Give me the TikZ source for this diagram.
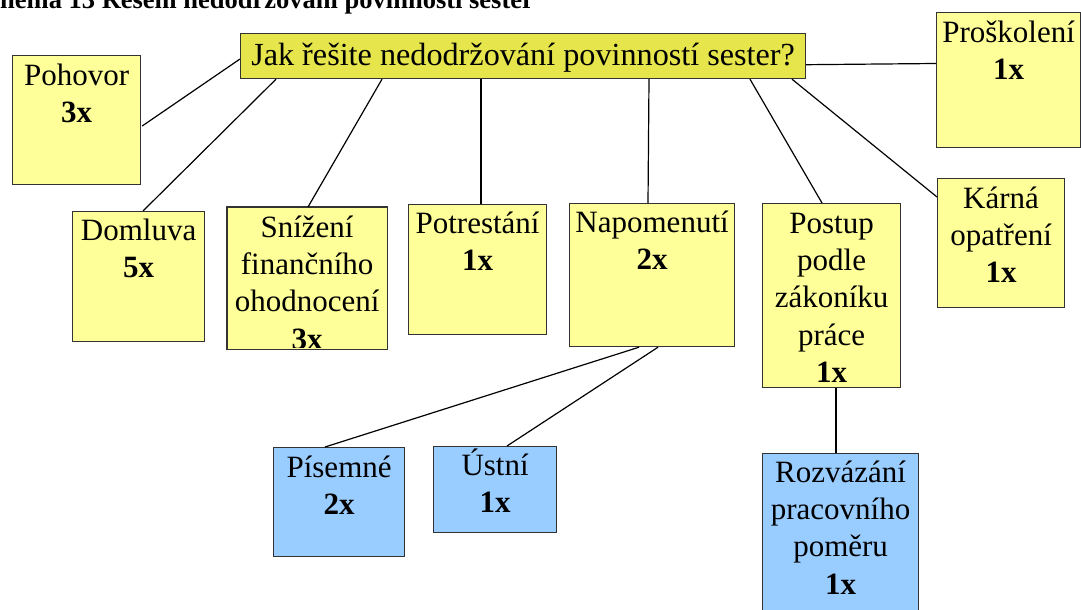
\documentclass[tikz,border=0pt]{standalone}
\usepackage{fontspec}
\setmainfont{Liberation Serif}
\usetikzlibrary{calc}
\definecolor{cardyellow}{HTML}{FFFF99}
\definecolor{questionyellow}{HTML}{E6E64C}
\definecolor{cardblue}{HTML}{99CCFF}
\begin{document}
\begin{tikzpicture}[x=1pt,y=-1pt,
  card/.style={draw=black!80, line width=1.2pt, inner sep=0pt, anchor=north west, rectangle},
  yellowcard/.style={card, fill=cardyellow},
  bluecard/.style={card, fill=cardblue},
  cardtext/.style={anchor=north, inner sep=0pt, align=center, font=\fontsize{31}{37.3}\selectfont},
  wire/.style={draw=black, line width=1.2pt}]
\useasboundingbox (0,0) rectangle (1081,610);
\clip (0,0) rectangle (1081,610);

% caption, partly above the page
\node[anchor=base west, inner sep=0pt, font=\bfseries\fontsize{26.5}{30}\selectfont] (caption) at (-26.5,8.5)
  {Schéma 13 Řešení nedodržování povinností sester};

% central question
\node[card, fill=questionyellow, minimum width=565pt, minimum height=45pt] (question) at (240,33) {};
\node[cardtext, font=\fontsize{32.2}{37.3}\selectfont] at (question.north) {\rule{0pt}{32pt}Jak řešite nedodržování povinností sester?};

% yellow answers
\node[yellowcard, minimum width=128pt, minimum height=129pt] (pohovor) at (12,55) {};
\node[cardtext] at (pohovor.north) {\rule{0pt}{30pt}Pohovor\\\textbf{3x}};

\node[yellowcard, minimum width=132pt, minimum height=130pt] (domluva) at (72,211) {};
\node[cardtext] at (domluva.north) {\rule{0pt}{29pt}Domluva\\\textbf{5x}};

% this card's last line runs past its lower edge and is cut there
\node[yellowcard, draw=none, minimum width=159pt, minimum height=141pt] (snizeni) at (227,207) {};
\begin{scope}
  \clip (snizeni.north west) rectangle ($(snizeni.south east)+(0,-2)$);
  \node[cardtext] at (snizeni.north) {\rule{0pt}{30pt}Snížení\\finančního\\ohodnocení\\\textbf{3x}};
\end{scope}
\draw[draw=black!80, line width=1.2pt] (snizeni.north west) rectangle (snizeni.south east);

\node[yellowcard, minimum width=138pt, minimum height=130pt] (potrestani) at (408,204) {};
\node[cardtext] at (potrestani.north) {\rule{0pt}{29pt}Potrestání\\\textbf{1x}};

\node[yellowcard, minimum width=165pt, minimum height=143pt] (napomenuti) at (569,203) {};
\node[cardtext] at (napomenuti.north) {\rule{0pt}{29pt}Napomenutí\\\textbf{2x}};

\node[yellowcard, minimum width=138pt, minimum height=184pt] (postup) at (762,203) {};
\node[cardtext] at (postup.north) {\rule{0pt}{30pt}Postup\\podle\\zákoníku\\práce\\\textbf{1x}};

\node[yellowcard, minimum width=127pt, minimum height=129pt] (karna) at (937,178) {};
\node[cardtext] at (karna.north) {\rule{0pt}{30pt}Kárná\\opatření\\\textbf{1x}};

\node[yellowcard, minimum width=144pt, minimum height=135pt] (proskoleni) at (936,12) {};
\node[cardtext] at (proskoleni.north) {\rule{0pt}{30pt}Proškolení\\\textbf{1x}};

% blue sub-answers
\node[bluecard, minimum width=131pt, minimum height=109pt] (pisemne) at (273,447) {};
\node[cardtext] at (pisemne.north) {\rule{0pt}{30pt}Písemné\\\textbf{2x}};

\node[bluecard, minimum width=123pt, minimum height=86pt] (ustni) at (433,446) {};
\node[cardtext] at (ustni.north) {\rule{0pt}{29pt}Ústní\\\textbf{1x}};

\node[bluecard, minimum width=156pt, minimum height=170pt] (rozvazani) at (762,453) {};
\node[cardtext] at (rozvazani.north) {\rule{0pt}{29pt}Rozvázání\\pracovního\\poměru\\\textbf{1x}};

% connectors
\draw[wire] ($(question.north west)+(0,26)$) -- ($(pohovor.north east)+(1,71)$);
\draw[wire] ($(question.south west)+(36,0)$) -- ($(domluva.north west)+(71,0)$);
\draw[wire] ($(question.south west)+(142,0)$) -- ($(snizeni.north west)+(81,0)$);
\draw[wire] ($(question.south west)+(241,0)$) -- ($(potrestani.north west)+(73,0)$);
\draw[wire] ($(question.south west)+(409,0)$) -- ($(napomenuti.north west)+(79,0)$);
\draw[wire] ($(question.south west)+(510,0)$) -- ($(postup.north west)+(60,0)$);
\draw[wire] ($(question.south west)+(552,0)$) -- ($(karna.north west)+(0,19)$);
\draw[wire] ($(question.south east)+(0,-14.5)$) -- ($(proskoleni.north west)+(0,51.5)$);
\draw[wire] ($(napomenuti.south west)+(70,0)$) -- ($(pisemne.north west)+(52,0)$);
\draw[wire] ($(napomenuti.south west)+(89,0)$) -- ($(ustni.north west)+(74,0)$);
\draw[wire] ($(postup.south west)+(74,0)$) -- ($(rozvazani.north west)+(74,0)$);
\end{tikzpicture}
\end{document}
